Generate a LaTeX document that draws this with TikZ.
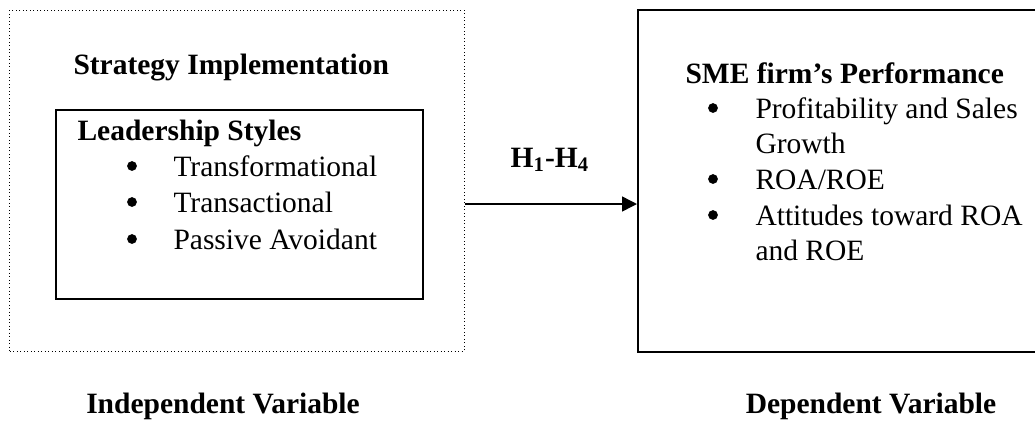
\documentclass[tikz,border=0pt]{standalone}
\usepackage{fontspec}
\setmainfont{Liberation Serif}
\usepackage{tikz}
\usetikzlibrary{arrows.meta, positioning}

\begin{document}
\begin{tikzpicture}[x=0.4pt, y=-0.4pt,
    every node/.style={font=\fontsize{11.8}{14.6}\selectfont, inner sep=0pt},
    outerbox/.style={draw, line width=0.4pt, dash pattern=on 0.4pt off 1pt},
    framebox/.style={draw, line width=0.8pt},
    headtext/.style={anchor=base west, font=\fontsize{11.8}{14.6}\selectfont\bfseries},
    itemtext/.style={anchor=base west},
    dot/.style={circle, fill, minimum size=3.9pt},
    captext/.style={anchor=base, font=\fontsize{11.8}{14.6}\selectfont\bfseries}]

\useasboundingbox (0,0) rectangle (1035,421);

% === Independent side ===
\node[outerbox, minimum width=181.6pt, minimum height=136.4pt]
      (strategy) at (237,180.5) {};
\node[headtext] (strategyhead) at (73,74) {Strategy Implementation};

\node[framebox, minimum width=146.8pt, minimum height=75.6pt]
      (leadership) at (239.5,204.5) {};
\node[headtext] (leadhead) at (77,140) {Leadership Styles};

% bullet list
\foreach \name/\txt/\yy in {trf/Transformational/176, trs/Transactional/212, pav/Passive Avoidant/249} {
    \node[dot] (\name dot) at (132,\yy-10) {};
    \node[itemtext] (\name) at (173,\yy) {\txt};
}

% === Dependent side ===
\node[framebox, minimum width=161.6pt, minimum height=136.8pt]
      (performance) at (840,181) {};
\node[headtext] (perfhead) at (685,83) {SME firm’s Performance};

\foreach \name/\yy in {prof/118, roa/189, att/225} {
    \node[dot] (\name dot) at (713,\yy-10) {};
}
\node[itemtext] (prof) at (755,118) {Profitability and Sales};
\node[itemtext] (profwrap) at (755,153) {Growth};
\node[itemtext] (roa) at (755,189) {ROA/ROE};
\node[itemtext] (att) at (755,225) {Attitudes toward ROA};
\node[itemtext] (attwrap) at (755,260) {and ROE};

% Arrow strategy -> performance
\coordinate (arrowlevel) at (0,204);
\draw[line width=0.6pt, -{Triangle[length=6pt, width=6pt]}]
     (strategy.east |- arrowlevel) -- (performance.west |- arrowlevel);
\node[captext] (hyp) at (550,167) {H\textsubscript{1}-H\textsubscript{4}};

% === Captions ===
\node[captext] (indep) at (223,413) {Independent Variable};
\node[captext] (dep) at (871,413) {Dependent Variable};

\end{tikzpicture}
\end{document}
